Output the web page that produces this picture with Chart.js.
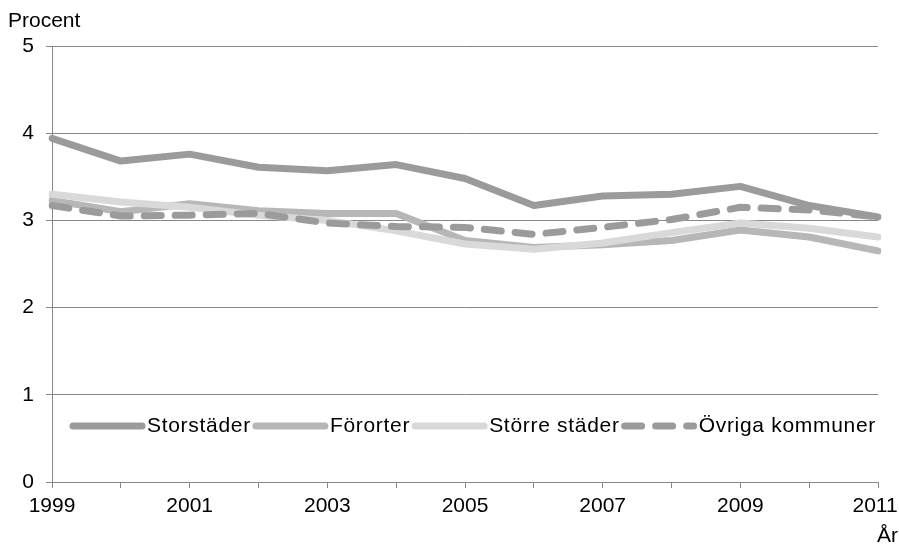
<!DOCTYPE html>
<html>
<head>
<meta charset="utf-8">
<script src="https://cdn.jsdelivr.net/npm/chart.js@4"></script>
<style>
  html, body { margin: 0; padding: 0; background: #fff; }
  #wrap { position: relative; width: 899px; height: 546px; }
</style>
</head>
<body>
<div id="wrap"><canvas id="chart"></canvas></div>
<script>
'use strict';

const years = ['1999', '2000', '2001', '2002', '2003', '2004', '2005', '2006', '2007', '2008', '2009', '2010', '2011'];
const storstader = [3.94, 3.68, 3.76, 3.61, 3.57, 3.64, 3.48, 3.17, 3.28, 3.30, 3.39, 3.17, 3.04];
const fororter = [3.23, 3.10, 3.19, 3.11, 3.08, 3.08, 2.77, 2.69, 2.72, 2.77, 2.89, 2.81, 2.65];
const storreStader = [3.30, 3.21, 3.15, 3.06, 3.00, 2.88, 2.73, 2.67, 2.74, 2.86, 2.97, 2.91, 2.81];
const ovriga = [3.17, 3.05, 3.06, 3.08, 2.97, 2.93, 2.92, 2.84, 2.92, 3.01, 3.15, 3.12, 3.04];
const yTicks = [0, 1, 2, 3, 4, 5];

const FONT = '"Liberation Sans", Arial, sans-serif';
const GRID = '#888888';

const line = (label, data, color, order, dash) => ({
  label: label,
  data: data,
  borderColor: color,
  backgroundColor: color,
  borderWidth: 7,
  borderDash: dash || [],
  borderCapStyle: 'round',
  borderJoinStyle: 'round',
  pointRadius: 0,
  tension: 0,
  fill: false,
  order: order,
});

// legend drawn inside the plot area, Excel style
const innerLegend = {
  id: 'innerLegend',
  afterDraw(chart) {
    const ctx = chart.ctx;
    const area = chart.chartArea;
    const sets = [...chart.data.datasets].sort((a, b) => b.order - a.order);
    let x = area.left + 18;
    const y = 426;
    ctx.save();
    ctx.font = '21px ' + FONT;
    ctx.letterSpacing = '0.7px';
    ctx.textBaseline = 'middle';
    ctx.fillStyle = '#000';
    for (const ds of sets) {
      ctx.strokeStyle = ds.borderColor;
      ctx.lineWidth = ds.borderWidth;
      ctx.lineCap = 'round';
      ctx.setLineDash(ds.borderDash);
      ctx.beginPath();
      ctx.moveTo(x + 3, y);
      ctx.lineTo(x + 72, y);
      ctx.stroke();
      ctx.setLineDash([]);
      x += 77;
      ctx.fillText(ds.label, x, y);
      x += ctx.measureText(ds.label).width + 2;
    }
    // axis titles
    ctx.letterSpacing = '0px';
    ctx.textBaseline = 'alphabetic';
    ctx.textAlign = 'left';
    ctx.fillText('Procent', 8, 27);
    ctx.textAlign = 'right';
    ctx.fillText('År', 898, 542);
    ctx.restore();
  }
};

new Chart(document.getElementById('chart'), {
  type: 'line',
  data: {
    labels: years,
    datasets: [
      line('Storstäder', storstader, '#9b9b9b', 4),
      line('Förorter', fororter, '#b7b7b7', 3),
      line('Större städer', storreStader, '#d9d9d9', 2),
      line('Övriga kommuner', ovriga, '#9b9b9b', 1, [17, 14]),
    ]
  },
  options: {
    responsive: true,
    maintainAspectRatio: false,
    animation: false,
    layout: {
      padding: { top: 46, right: 21, left: 0, bottom: 0 }
    },
    plugins: {
      legend: { display: false },
      tooltip: { enabled: false },
    },
    scales: {
      x: {
        type: 'category',
        offset: false,
        afterFit: (s) => { s.height = 64; s.paddingRight = 0; s.paddingLeft = 0; },
        grid: {
          drawOnChartArea: false,
          drawTicks: true,
          tickLength: 6,
          color: GRID,
        },
        border: { color: GRID, width: 1 },
        ticks: {
          autoSkip: false,
          maxRotation: 0,
          padding: 6,
          color: '#000',
          font: { family: FONT, size: 21 },
          callback: function (value, index, ticks) {
            if (index % 2 !== 0) return '';
            const lbl = this.getLabelForValue(value);
            // keep the last label inside the canvas
            return index === ticks.length - 1 ? lbl + ' ' : lbl;
          },
        },
      },
      y: {
        min: 0,
        max: 5,
        afterFit: (s) => { s.width = 52; },
        afterBuildTicks: (s) => { s.ticks = yTicks.map(v => ({ value: v })); },
        grid: {
          color: GRID,
          lineWidth: 1,
          tickLength: 6,
        },
        border: { color: GRID, width: 1 },
        ticks: {
          padding: 12,
          color: '#000',
          font: { family: FONT, size: 21 },
        },
      },
    },
  },
  plugins: [innerLegend],
});
</script>
</body>
</html>
